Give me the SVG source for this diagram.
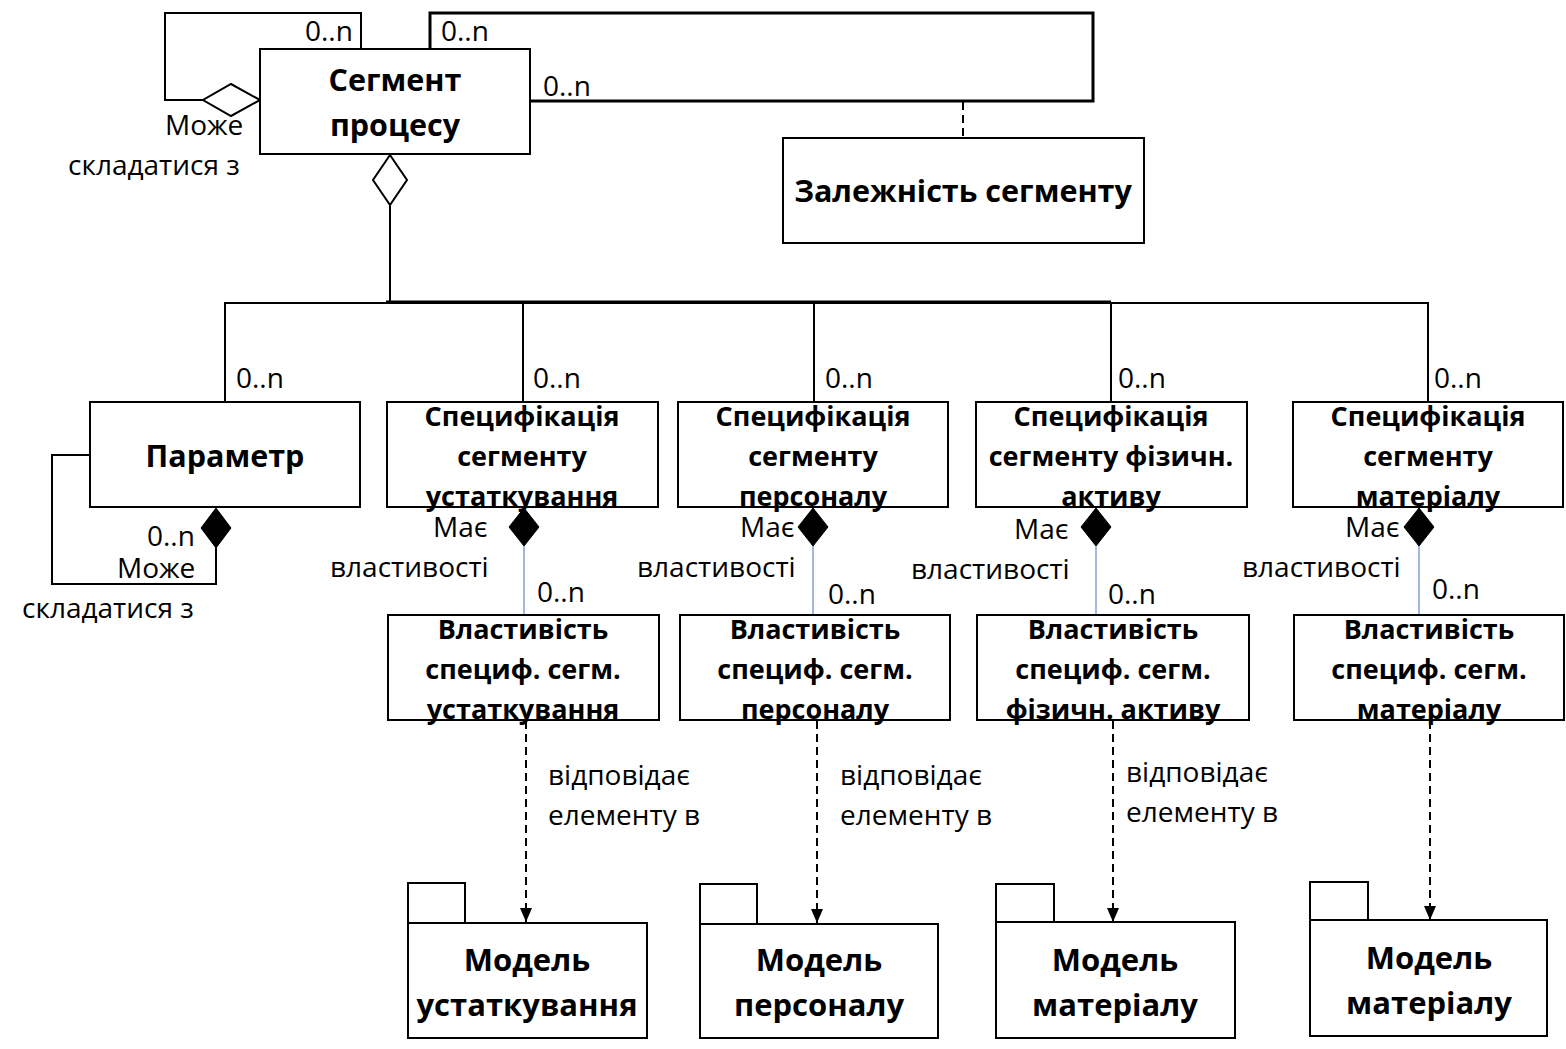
<svg xmlns="http://www.w3.org/2000/svg" width="1566" height="1049" viewBox="0 0 1566 1049">
<style>
.box{fill:#fff;stroke:#000;stroke-width:2}
.ln{fill:none;stroke:#000;stroke-width:2}
.thick{fill:none;stroke:#000;stroke-width:3}
.blue{fill:none;stroke:#6f93d0;stroke-width:1.3}
.dash{fill:none;stroke:#000;stroke-width:2;stroke-dasharray:8,5}
.hd{fill:#fff;stroke:#000;stroke-width:2}
.fd{fill:#000;stroke:#000;stroke-width:1}
.b{font-family:"Open Sans","Noto Sans",sans-serif;font-weight:bold;font-size:27px;text-anchor:middle;fill:#000}
.bm{font-family:"Open Sans","Noto Sans",sans-serif;font-weight:bold;font-size:30.5px;text-anchor:middle;fill:#000}
.bk{font-family:"Open Sans","Noto Sans",sans-serif;font-weight:bold;font-size:31px;text-anchor:middle;fill:#000}
.t{font-family:"Open Sans","Noto Sans",sans-serif;font-size:28px;fill:#000}
</style>
<defs>
<marker id="arr" markerWidth="14" markerHeight="12" refX="14" refY="6" orient="auto" markerUnits="userSpaceOnUse" viewBox="0 0 14 12">
<path d="M0,0 L14,6 L0,12 Z" fill="#000"/>
</marker>
</defs>
<rect width="1566" height="1049" fill="#fff"/>

<g id="connectors">
<polyline class="ln" points="203,100 165,100 165,13 361,13 361,49"/>
<polygon class="hd" points="260,100 231,84 203,100 231,116"/>
<polyline class="thick" points="430,49 430,13 1093,13 1093,101 530,101"/>
<line class="dash" x1="963" y1="102" x2="963" y2="138"/>
<polygon class="hd" points="390,155 407,180 390,205 373,180"/>
<line class="ln" x1="390" y1="205" x2="390" y2="303"/>
<polyline class="ln" points="225,402 225,303 1428,303 1428,402"/>
<line class="thick" x1="386" y1="302" x2="1111" y2="302"/>
<line class="ln" x1="523" y1="303" x2="523" y2="402"/>
<line class="ln" x1="814" y1="303" x2="814" y2="402"/>
<line class="ln" x1="1111" y1="303" x2="1111" y2="402"/>
<polyline class="ln" points="90,455 52,455 52,584 216,584 216,548"/>
<polygon class="fd" points="216,508 231,528 216,548 201,528"/>
<polygon class="fd" points="524,508 539,527 524,546 509,527"/>
<line class="blue" x1="524" y1="546" x2="524" y2="615"/>
<polygon class="fd" points="813,508 828,527 813,546 798,527"/>
<line class="blue" x1="813" y1="546" x2="813" y2="615"/>
<polygon class="fd" points="1096,508 1111,527 1096,546 1081,527"/>
<line class="blue" x1="1096" y1="546" x2="1096" y2="615"/>
<polygon class="fd" points="1419,508 1434,527 1419,546 1404,527"/>
<line class="blue" x1="1419" y1="546" x2="1419" y2="615"/>
<line class="dash" x1="526" y1="721" x2="526" y2="922" marker-end="url(#arr)"/>
<line class="dash" x1="817" y1="721" x2="817" y2="923" marker-end="url(#arr)"/>
<line class="dash" x1="1113" y1="721" x2="1113" y2="922" marker-end="url(#arr)"/>
<line class="dash" x1="1430" y1="721" x2="1430" y2="920" marker-end="url(#arr)"/>
</g>

<g id="labels">
<text class="t" x="305" y="41">0..n</text>
<text class="t" x="441" y="41">0..n</text>
<text class="t" x="543" y="96">0..n</text>
<text class="t" x="165" y="135">Може</text>
<text class="t" x="68" y="175">складатися з</text>
<text class="t" x="236" y="388">0..n</text>
<text class="t" x="533" y="388">0..n</text>
<text class="t" x="825" y="388">0..n</text>
<text class="t" x="1118" y="388">0..n</text>
<text class="t" x="1434" y="388">0..n</text>
<text class="t" x="147" y="546">0..n</text>
<text class="t" x="117" y="578">Може</text>
<text class="t" x="22" y="618">складатися з</text>
<text class="t" x="433" y="537">Має</text>
<text class="t" x="330" y="577">властивості</text>
<text class="t" x="537" y="602">0..n</text>
<text class="t" x="740" y="537">Має</text>
<text class="t" x="637" y="577">властивості</text>
<text class="t" x="828" y="604">0..n</text>
<text class="t" x="1014" y="539">Має</text>
<text class="t" x="911" y="579">властивості</text>
<text class="t" x="1108" y="604">0..n</text>
<text class="t" x="1345" y="537">Має</text>
<text class="t" x="1242" y="577">властивості</text>
<text class="t" x="1432" y="599">0..n</text>
<text class="t" x="548" y="785">відповідає</text>
<text class="t" x="548" y="825">елементу в</text>
<text class="t" x="840" y="785">відповідає</text>
<text class="t" x="840" y="825">елементу в</text>
<text class="t" x="1126" y="782">відповідає</text>
<text class="t" x="1126" y="822">елементу в</text>
</g>

<g id="node-segment">
<rect class="box" x="260" y="49" width="270" height="105"/>
<text class="bm" x="395" y="91">Сегмент</text>
<text class="bm" x="395" y="136">процесу</text>
</g>
<g id="node-dependency">
<rect class="box" x="783" y="138" width="361" height="105"/>
<text class="bm" x="963" y="202">Залежність сегменту</text>
</g>
<g id="node-parameter">
<rect class="box" x="90" y="402" width="270" height="105"/>
<text class="bm" x="225" y="467">Параметр</text>
</g>
<g id="node-spec-equipment">
<rect class="box" x="387" y="402" width="271" height="105"/>
<text class="b" x="522" y="426">Специфікація</text>
<text class="b" x="522" y="466">сегменту</text>
<text class="b" x="522" y="506">устаткування</text>
</g>
<g id="node-spec-personnel">
<rect class="box" x="678" y="402" width="270" height="105"/>
<text class="b" x="813" y="426">Специфікація</text>
<text class="b" x="813" y="466">сегменту</text>
<text class="b" x="813" y="506">персоналу</text>
</g>
<g id="node-spec-asset">
<rect class="box" x="976" y="402" width="271" height="105"/>
<text class="b" x="1111" y="426">Специфікація</text>
<text class="b" x="1111" y="466">сегменту фізичн.</text>
<text class="b" x="1111" y="506">активу</text>
</g>
<g id="node-spec-material">
<rect class="box" x="1293" y="402" width="270" height="105"/>
<text class="b" x="1428" y="426">Специфікація</text>
<text class="b" x="1428" y="466">сегменту</text>
<text class="b" x="1428" y="506">матеріалу</text>
</g>
<g id="node-prop-equipment">
<rect class="box" x="388" y="615" width="271" height="105"/>
<text class="b" x="523" y="639">Властивість</text>
<text class="b" x="523" y="679">специф. сегм.</text>
<text class="b" x="523" y="719">устаткування</text>
</g>
<g id="node-prop-personnel">
<rect class="box" x="680" y="615" width="270" height="105"/>
<text class="b" x="815" y="639">Властивість</text>
<text class="b" x="815" y="679">специф. сегм.</text>
<text class="b" x="815" y="719">персоналу</text>
</g>
<g id="node-prop-asset">
<rect class="box" x="977" y="615" width="272" height="105"/>
<text class="b" x="1113" y="639">Властивість</text>
<text class="b" x="1113" y="679">специф. сегм.</text>
<text class="b" x="1113" y="719">фізичн. активу</text>
</g>
<g id="node-prop-material">
<rect class="box" x="1294" y="615" width="270" height="105"/>
<text class="b" x="1429" y="639">Властивість</text>
<text class="b" x="1429" y="679">специф. сегм.</text>
<text class="b" x="1429" y="719">матеріалу</text>
</g>
<g id="node-model-equipment">
<rect class="box" x="408" y="883" width="57" height="40"/>
<rect class="box" x="408" y="923" width="239" height="115"/>
<text class="bk" x="527" y="971">Модель</text>
<text class="bk" x="527" y="1016">устаткування</text>
</g>
<g id="node-model-personnel">
<rect class="box" x="700" y="884" width="57" height="40"/>
<rect class="box" x="700" y="924" width="238" height="114"/>
<text class="bk" x="819" y="971">Модель</text>
<text class="bk" x="819" y="1016">персоналу</text>
</g>
<g id="node-model-material1">
<rect class="box" x="996" y="884" width="58" height="38"/>
<rect class="box" x="996" y="922" width="239" height="116"/>
<text class="bk" x="1115" y="971">Модель</text>
<text class="bk" x="1115" y="1016">матеріалу</text>
</g>
<g id="node-model-material2">
<rect class="box" x="1310" y="882" width="58" height="38"/>
<rect class="box" x="1310" y="920" width="237" height="116"/>
<text class="bk" x="1429" y="969">Модель</text>
<text class="bk" x="1429" y="1014">матеріалу</text>
</g>
</svg>
